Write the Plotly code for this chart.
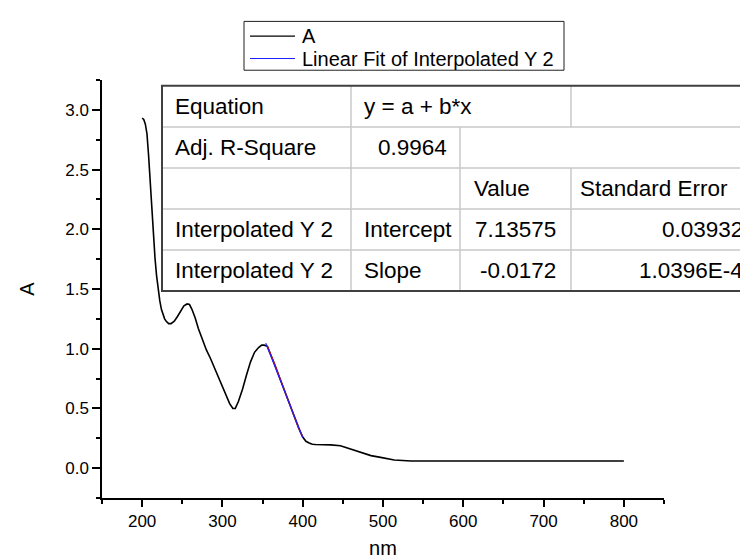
import plotly.graph_objects as go

# ---------------- data ----------------
wavelength_nm = [200, 202, 204, 206, 208, 210, 212, 214, 216, 218, 220, 222, 224, 226, 228, 230,
                 233, 236, 240, 244, 248, 252, 256, 259, 262, 266, 270, 275, 280, 285, 290, 295,
                 300, 305, 309, 313, 316, 320, 325, 330, 335, 340, 345, 349, 352, 356, 360, 365,
                 370, 375, 380, 385, 390, 395, 400, 404, 408, 412, 416, 425, 435, 447, 460, 472,
                 485, 497, 514, 535, 560, 600, 700, 800]
absorbance = [2.93, 2.92, 2.88, 2.80, 2.62, 2.38, 2.15, 1.93, 1.76, 1.61, 1.49, 1.40, 1.33, 1.28, 1.25, 1.23,
              1.21, 1.21, 1.23, 1.27, 1.32, 1.36, 1.375, 1.37, 1.33, 1.26, 1.17, 1.07, 0.99, 0.92, 0.84, 0.76,
              0.68, 0.60, 0.54, 0.50, 0.50, 0.56, 0.66, 0.78, 0.89, 0.97, 1.01, 1.03, 1.03, 1.02, 0.96, 0.87,
              0.78, 0.69, 0.60, 0.51, 0.42, 0.335, 0.26, 0.225, 0.21, 0.20, 0.198, 0.197, 0.195, 0.188, 0.16, 0.13,
              0.105, 0.09, 0.068, 0.06, 0.06, 0.06, 0.06, 0.06]

fit_range = [354, 400]          # nm range of the linear fit
fit_x = [354, 400]
fit_y = [1.047, 0.256]

series_names = ["A", "Linear Fit of Interpolated Y 2"]
series_colors = ["black", "#2020ff"]

x_tick_labels = ["200", "300", "400", "500", "600", "700", "800"]
y_tick_labels = ["0.0", "0.5", "1.0", "1.5", "2.0", "2.5", "3.0"]

table_rows = [
    ["Equation", "y = a + b*x", "", ""],
    ["Adj. R-Square", "0.9964", "", ""],
    ["", "", "Value", "Standard Error"],
    ["Interpolated Y 2", "Intercept", "7.13575", "0.03932"],
    ["Interpolated Y 2", "Slope", "-0.0172", "1.0396E-4"],
]

# ---------------- layout helpers ----------------
W, H = 748, 560
L, R, T, B = 94, 656, 72, 500   # plot area in pixels


def px(xp):
    return (xp - L) / (R - L)


def py(yp):
    return (B - yp) / (B - T)


FONT = "Arial, Liberation Sans, sans-serif"

fig = go.Figure()

fig.add_trace(go.Scatter(x=wavelength_nm, y=absorbance, mode="lines", name=series_names[0],
                         showlegend=False, line=dict(color=series_colors[0], width=1.6)))

sub = [(x, y) for x, y in zip(wavelength_nm, absorbance) if fit_range[0] <= x <= fit_range[1]]
fig.add_trace(go.Scatter(x=[s[0] for s in sub], y=[s[1] for s in sub], mode="lines",
                         name="Interpolated Y 2", showlegend=False,
                         line=dict(color="red", width=1.2)))

fig.add_trace(go.Scatter(x=fit_x, y=fit_y, mode="lines", name=series_names[1],
                         showlegend=False, line=dict(color=series_colors[1], width=1.2)))

shapes = []
annotations = []

# ---------------- legend (Origin style box) ----------------
leg_left, leg_right, leg_top, leg_bottom = 236, 556, 12, 62
leg_rows = [27, 50]
shapes.append(dict(type="rect", xref="paper", yref="paper",
                   x0=px(leg_left), x1=px(leg_right), y0=py(leg_bottom), y1=py(leg_top),
                   fillcolor="white", line=dict(color="#202020", width=1)))
for name, col, yr in zip(series_names, series_colors, leg_rows):
    shapes.append(dict(type="line", xref="paper", yref="paper", x0=px(242), x1=px(287),
                       y0=py(yr), y1=py(yr), line=dict(color=col, width=1.2)))
    annotations.append(dict(text=name, xref="paper", yref="paper", x=px(292), y=py(yr),
                            xanchor="left", yanchor="middle", showarrow=False,
                            font=dict(family=FONT, size=20, color="black")))

# ---------------- table ----------------
col_edges = [154, 343, 452, 563, 752]
row_edges = [78, 120, 162, 204, 246, 288]
inner = "#c8c8c8"
outer = "#404040"
shapes.append(dict(type="rect", xref="paper", yref="paper",
                   x0=px(col_edges[0]), x1=px(col_edges[-1]), y0=py(row_edges[-1]), y1=py(row_edges[0]),
                   fillcolor="white", line=dict(width=0), layer="above"))
for yy in row_edges[1:-1]:
    shapes.append(dict(type="line", xref="paper", yref="paper", x0=px(col_edges[0]), x1=px(col_edges[-1]),
                       y0=py(yy), y1=py(yy), line=dict(color=inner, width=1.5), layer="above"))
v_segments = [
    (col_edges[1], row_edges[0], row_edges[-1]),
    (col_edges[2], row_edges[1], row_edges[-1]),
    (col_edges[3], row_edges[0], row_edges[1]),
    (col_edges[3], row_edges[2], row_edges[-1]),
]
for xx, ya, yb in v_segments:
    shapes.append(dict(type="line", xref="paper", yref="paper", x0=px(xx), x1=px(xx),
                       y0=py(ya), y1=py(yb), line=dict(color=inner, width=1.5), layer="above"))
shapes.append(dict(type="rect", xref="paper", yref="paper",
                   x0=px(col_edges[0]), x1=px(col_edges[-1]), y0=py(row_edges[-1]), y1=py(row_edges[0]),
                   line=dict(color=outer, width=2), layer="above"))

cell_pos = [
    [(165, "left"), (354, "left"), None, None],
    [(165, "left"), (441, "right"), None, None],
    [None, None, (464, "left"), (570, "left")],
    [(165, "left"), (354, "left"), (550, "right"), (737, "right")],
    [(165, "left"), (354, "left"), (550, "right"), (737, "right")],
]
for r, row in enumerate(table_rows):
    yc = (row_edges[r] + row_edges[r + 1]) / 2
    for c, txt in enumerate(row):
        if not txt:
            continue
        xp, anc = cell_pos[r][c]
        annotations.append(dict(text=txt, xref="paper", yref="paper", x=px(xp), y=py(yc),
                                xanchor=anc, yanchor="middle", showarrow=False,
                                font=dict(family=FONT, size=22.5, color="black")))

fig.update_layout(
    width=W, height=H,
    margin=dict(l=L, r=W - R, t=T, b=H - B),
    paper_bgcolor="white", plot_bgcolor="white",
    font=dict(family=FONT, color="black"),
    shapes=shapes,
    annotations=annotations,
    showlegend=False,
)

fig.update_xaxes(range=[150, 850], tickmode="array",
                 tickvals=[int(t) for t in x_tick_labels], ticktext=x_tick_labels,
                 ticks="outside", ticklen=7, tickwidth=1.5, tickcolor="black",
                 minor=dict(ticks="outside", ticklen=4, tickwidth=1.5, tickcolor="black",
                            tickmode="linear", tick0=0, dtick=50),
                 showgrid=False, zeroline=False, showline=True, linecolor="black", linewidth=1.5,
                 tickfont=dict(family=FONT, size=17),
                 title=dict(text="nm", font=dict(family=FONT, size=20), standoff=11))
fig.update_yaxes(range=[-0.25, 3.25], tickmode="array",
                 tickvals=[float(t) for t in y_tick_labels], ticktext=y_tick_labels,
                 ticks="outside", ticklen=8, tickwidth=1.5, tickcolor="black",
                 minor=dict(ticks="outside", ticklen=4, tickwidth=1.5, tickcolor="black",
                            tickmode="linear", tick0=0, dtick=0.25),
                 showgrid=False, zeroline=False, showline=True, linecolor="black", linewidth=1.5,
                 tickfont=dict(family=FONT, size=17),
                 title=dict(text="A", font=dict(family=FONT, size=20), standoff=25))

fig.write_html("out.html")
